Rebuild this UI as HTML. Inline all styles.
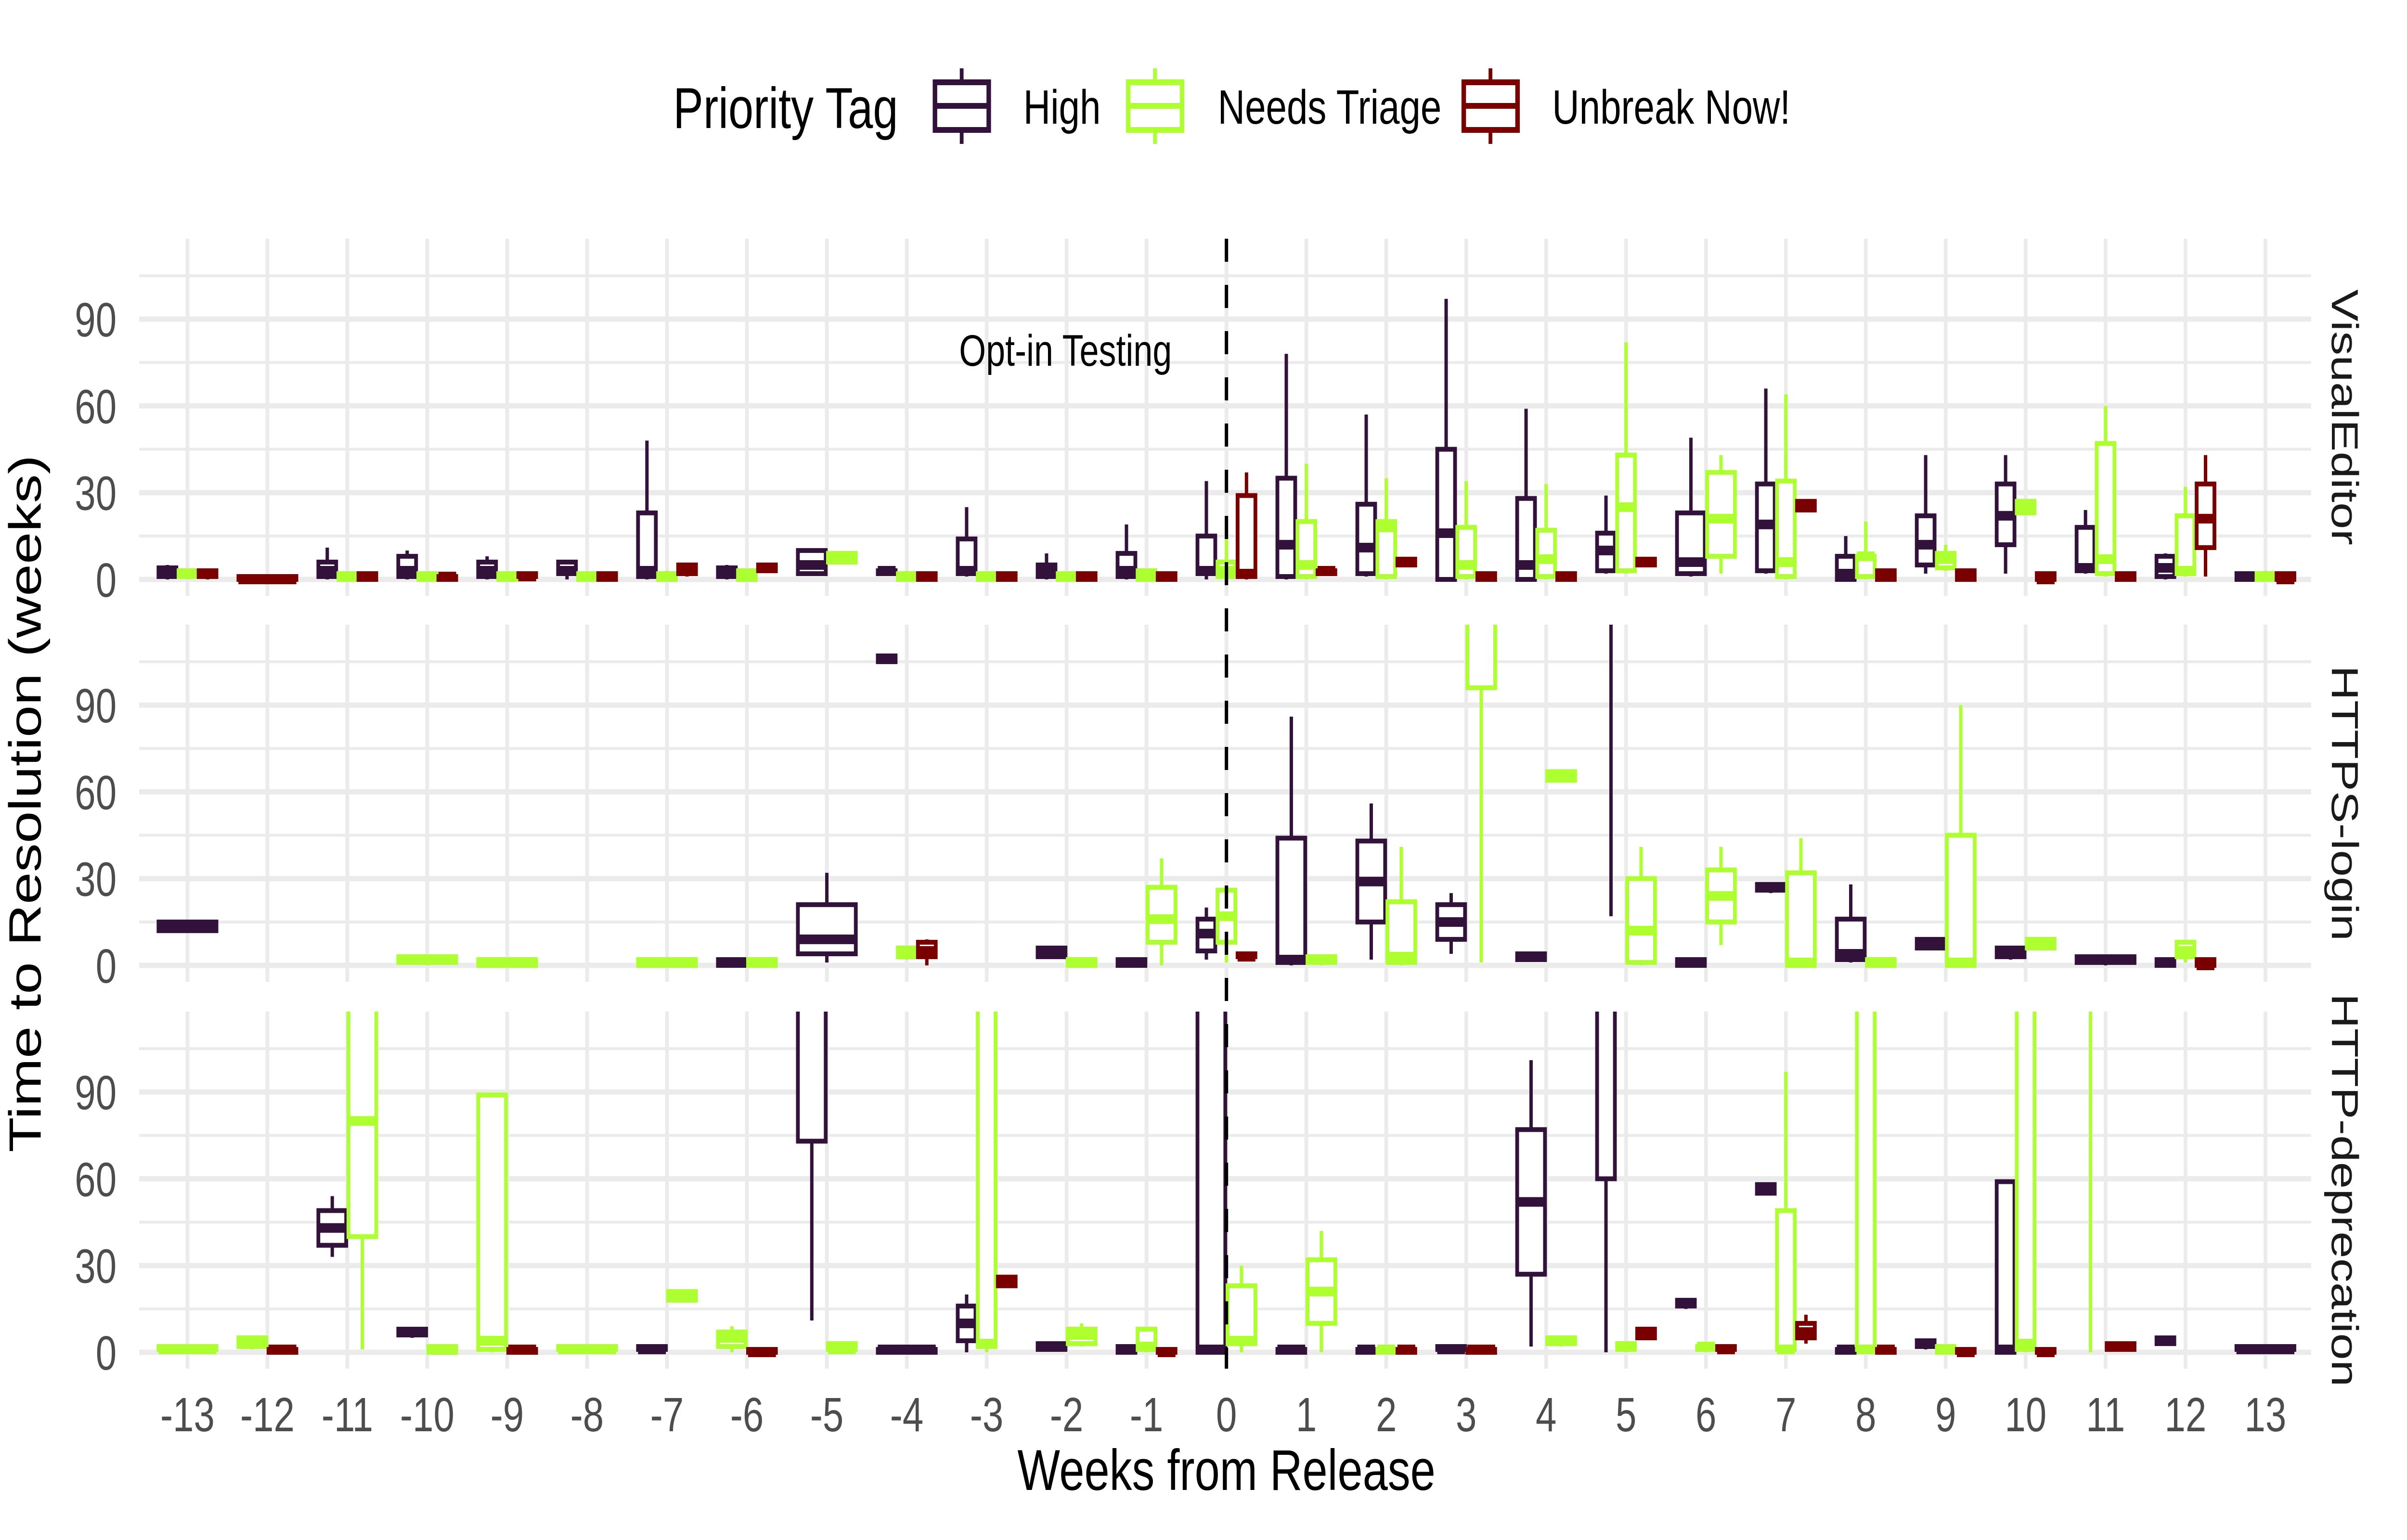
<!DOCTYPE html>
<html><head><meta charset="utf-8">
<style>
html,body{margin:0;padding:0;background:#fff;overflow:hidden;width:100%;height:100%;}
svg{display:block;width:100vw;height:100vh;}
text{font-family:"Liberation Sans",Arial,sans-serif;}
</style></head>
<body>
<svg id="s" xmlns="http://www.w3.org/2000/svg" viewBox="0 0 6400 3200" preserveAspectRatio="none">
<rect width="6400" height="3200" fill="#fff"/>
</svg>
<script>
const NS="http://www.w3.org/2000/svg";
const svg=document.getElementById('s');
function el(t,a,p){const e=document.createElementNS(NS,t);for(const k in a)e.setAttribute(k,a[k]);(p||svg).appendChild(e);return e;}
const X0=370,X1=6145;
const wx=w=>3261+212.5*w;
const panels=[{top:496,zero:1204,name:"VisualEditor"},{top:1298,zero:2006,name:"HTTPS-login"},{top:2102,zero:2810,name:"HTTP-deprecation"}];
const PH=742, K=6.01;
const COL=["#32113b","#adff2f","#7a0000"];
const D=[
[[-13,0,0,1,3,4,5],[-13,1,0,1,2,3,3],[-13,2,0,1,2,3,3],
[-12,2,0,0,0,1,1],
[-11,0,0,1,3,6,11],[-11,1,0,0,1,2,2],[-11,2,0,0,1,2,2],
[-10,0,0,1,3,8,10],[-10,1,0,0,1,2,2],[-10,2,0,0,1,1,2],
[-9,0,0,1,3,6,8],[-9,1,0,0,1,2,2],[-9,2,0,1,1,2,2],
[-8,0,0,2,3,6,6],[-8,1,0,0,1,2,2],[-8,2,0,0,1,2,2],
[-7,0,0,1,3,23,48],[-7,1,0,0,1,2,3],[-7,2,1,2,3,5,5],
[-6,0,0,1,2,4,5],[-6,1,0,0,1,3,3],[-6,2,3,3,4,5,5],
[-5,0,2,2,5,10,10],[-5,1,6,6,7,9,9],
[-4,0,2,2,3,3,3],[-4,1,0,0,1,2,3],[-4,2,0,0,1,2,2],
[-3,0,1,2,3,14,25],[-3,1,0,0,1,2,2],[-3,2,0,0,1,2,2],
[-2,0,0,1,3,5,9],[-2,1,0,0,1,2,2],[-2,2,0,0,1,2,2],
[-1,0,0,1,3,9,19],[-1,1,0,0,1,3,3],[-1,2,0,0,1,2,2],
[0,0,0,2,3,15,34],[0,1,0,1,3,6,18],[0,2,0,1,2,29,37],
[1,0,0,1,12,35,78],[1,1,0,1,5,20,40],[1,2,2,2,3,3,3],
[2,0,1,2,11,26,57],[2,1,0,1,18,20,35],[2,2,5,5,6,7,7],
[3,0,0,0,16,45,97],[3,1,0,1,5,18,34],[3,2,0,0,1,2,2],
[4,0,0,0,5,28,59],[4,1,0,1,7,17,33],[4,2,0,0,1,2,2],
[5,0,2,3,10,16,29],[5,1,2,3,25,43,82],[5,2,5,5,6,7,7],
[6,0,1,2,6,23,49,2],[6,1,2,8,21,37,43,2],
[7,0,2,3,19,33,66],[7,1,0,1,6,34,64],[7,2,24,24,25,27,27],
[8,0,0,0,2,8,15],[8,1,0,1,8,8,20],[8,2,0,0,1,3,3],
[9,0,2,5,12,22,43],[9,1,3,4,7,9,12],[9,2,0,0,1,3,3],
[10,0,2,12,22,33,43],[10,1,23,23,25,27,27],[10,2,0,0,0,2,2],
[11,0,2,3,4,18,24],[11,1,1,2,7,47,60],[11,2,0,0,1,2,2],
[12,0,0,1,4,8,9],[12,1,1,2,3,22,32],[12,2,1,11,21,33,43],
[13,0,0,0,1,2,2],[13,1,0,0,1,2,3],[13,2,0,0,0,2,2]],
[[-13,0,12,12,13,15,15],
[-10,1,0,1,2,3,3],[-9,1,0,0,1,2,2],[-7,1,0,0,1,2,2],
[-6,0,0,0,1,2,2],[-6,1,0,0,1,2,2],
[-5,0,1,4,9,21,32],
[-4,0,105,105,106,107,107],[-4,1,2,3,4,6,6],[-4,2,0,3,5,8,9],
[-2,0,3,3,4,6,6],[-2,1,0,0,1,2,2],
[-1,0,0,0,1,2,2],[-1,1,0,8,16,27,37],
[0,0,2,5,11,16,20],[0,1,1,8,17,26,26],[0,2,2,3,3,4,4],
[1,0,0,1,2,44,86],[1,1,0,1,2,3,3],
[2,0,2,15,29,43,56],[2,1,0,1,3,22,41],
[3,0,4,9,15,21,25],[3,1,1,96,130,140,140],
[4,0,2,2,3,4,4],[4,1,64,64,65,67,67],
[5,0,17,125,135,140,150],[5,1,0,1,12,30,41],
[6,0,0,0,1,2,2],[6,1,7,15,24,33,41],
[7,0,25,26,27,28,28],[7,1,0,0,1,32,44],
[8,0,1,2,4,16,28],[8,1,0,0,1,2,2],
[9,0,6,6,7,9,9],[9,1,0,0,1,45,90],
[10,0,2,3,4,6,6],[10,1,6,6,7,9,9],
[11,0,0,1,2,3,3],
[12,0,0,0,1,2,2],[12,1,1,3,5,8,8],[12,2,0,0,0,2,2]],
[[-13,1,0,1,1,2,2],
[-12,1,1,2,3,5,5],[-12,2,0,0,1,1,1],
[-11,0,33,37,43,49,54],[-11,1,1,40,80,130,140],
[-10,0,5,6,7,8,8],[-10,1,0,0,1,2,2],
[-9,1,0,1,4,89,89],[-9,2,0,0,1,1,1],
[-8,1,0,1,1,2,2],
[-7,0,0,1,1,2,2],[-7,1,18,18,19,21,21],
[-6,1,0,2,5,7,9],[-6,2,0,0,0,1,1],
[-5,0,11,73,130,140,150],[-5,1,0,1,1,3,3],
[-4,0,0,0,1,1,1],
[-3,0,0,4,10,16,20],[-3,1,0,2,3,140,150],[-3,2,23,23,24,26,26],
[-2,0,1,1,2,3,3],[-2,1,2,3,6,8,10],
[-1,0,0,0,1,2,2],[-1,1,0,1,2,8,8],[-1,2,0,0,0,1,1],
[0,0,0,0,1,130,150],[0,1,0,3,4,23,30],
[1,0,0,0,1,1,1],[1,1,0,10,21,32,42],
[2,0,0,0,1,1,1],[2,1,0,0,1,1,1],[2,2,0,0,1,1,1],
[3,0,0,1,1,2,2],[3,2,0,0,1,1,1],
[4,0,2,27,52,77,101],[4,1,2,3,4,5,5],
[5,0,0,60,130,140,150],[5,1,0,1,2,3,3],[5,2,5,5,6,8,8],
[6,0,15,16,17,18,18],[6,1,0,1,2,2,2],[6,2,0,1,1,2,2],
[7,0,55,55,56,58,58],[7,1,0,1,1,49,97],[7,2,3,5,7,10,13],
[8,0,0,0,1,1,1],[8,1,0,1,1,130,150],[8,2,0,0,1,1,1],
[9,0,1,2,3,4,4],[9,1,0,0,1,2,2],[9,2,0,0,0,1,1],
[10,0,0,0,1,59,59],[10,1,0,1,3,130,150],[10,2,0,0,0,1,1],
[11,1,0,130,140,150,150],[11,2,1,1,2,3,3],
[12,0,3,3,4,5,5,3],
[13,0,0,1,1,2,2]]
];
const defs=el('defs',{});
panels.forEach((p,pi)=>{
  const cp=el('clipPath',{id:'c'+pi},defs);
  el('rect',{x:X0,y:p.top,width:X1-X0,height:PH},cp);
  [15,45,75,105].forEach(v=>el('line',{x1:X0,x2:X1,y1:p.zero-v*K,y2:p.zero-v*K,stroke:'#ebebeb','stroke-width':6}));
  [0,30,60,90].forEach(v=>{
    const y=p.zero-v*K;
    el('line',{x1:X0,x2:X1,y1:y,y2:y,stroke:'#ebebeb','stroke-width':11});
    const t=el('text',{x:310,y:y+36,'text-anchor':'end','font-size':100,fill:'#4d4d4d'});t.textContent=v;
  });
  for(let w=-13;w<=13;w++)el('line',{x1:wx(w),x2:wx(w),y1:p.top,y2:p.top+PH,stroke:'#ebebeb','stroke-width':10});
  const g=el('g',{'clip-path':'url(#c'+pi+')'});
  const data=D[pi];
  data.forEach(b=>{
    const [w,gr,lo,q1,md,q3,hi,nov]=b;
    let members=data.filter(d=>d[0]===w).map(d=>d[1]).sort();
    let n=nov||members.length, idx=nov?gr:members.indexOf(gr);
    const slot=160/n, cx=wx(w)-80+(idx+0.5)*slot, bw=slot-6;
    const Y=v=>p.zero-v*K, c=COL[gr];
    el('line',{x1:cx,x2:cx,y1:Y(hi),y2:Y(q3),stroke:c,'stroke-width':9},g);
    el('line',{x1:cx,x2:cx,y1:Y(q1),y2:Y(lo),stroke:c,'stroke-width':9},g);
    el('rect',{x:cx-bw/2,y:Y(q3),width:bw,height:Math.max(Y(q1)-Y(q3),0.1),fill:'#fff',stroke:c,'stroke-width':10},g);
    el('line',{x1:cx-bw/2,x2:cx+bw/2,y1:Y(md),y2:Y(md),stroke:c,'stroke-width':20},g);
  });
  const st=el('text',{x:6200,y:p.top+PH/2,'font-size':100,fill:'#1a1a1a','text-anchor':'middle',transform:'rotate(90 6200 '+(p.top+PH/2)+')'});
  st.textContent=p.name;
});
el('line',{x1:3261,x2:3261,y1:496,y2:2844,stroke:'#000','stroke-width':9,'stroke-dasharray':'48 48'});
for(let w=-13;w<=13;w++){const t=el('text',{x:wx(w),y:2974,'text-anchor':'middle','font-size':100,fill:'#4d4d4d'});t.textContent=w;}
let t=el('text',{x:3261,y:3096,'text-anchor':'middle','font-size':120,fill:'#000'});t.textContent='Weeks from Release';
t=el('text',{x:0,y:0,'text-anchor':'middle','font-size':120,fill:'#000',transform:'translate(108 1670) rotate(-90)'});t.textContent='Time to Resolution (weeks)';
t=el('text',{x:2833,y:760,'text-anchor':'middle','font-size':92,fill:'#000'});t.textContent='Opt-in Testing';
t=el('text',{x:1790,y:266,'font-size':120,fill:'#000'});t.textContent='Priority Tag';
[[2480,'High',2721],[2994,'Needs Triage',3238],[3886,'Unbreak Now!',4127]].forEach((L,i)=>{
  const c=COL[i],x=L[0],cx=x+77;
  el('line',{x1:cx,x2:cx,y1:142,y2:171,stroke:c,'stroke-width':10});
  el('line',{x1:cx,x2:cx,y1:270,y2:299,stroke:c,'stroke-width':10});
  el('rect',{x:x+6,y:171,width:143,height:99,fill:'#fff',stroke:c,'stroke-width':12});
  el('line',{x1:x+6,x2:x+149,y1:220,y2:220,stroke:c,'stroke-width':12});
  const tt=el('text',{x:L[2],y:257,'font-size':100,fill:'#000'});tt.textContent=L[1];
});
</script>
</body></html>
